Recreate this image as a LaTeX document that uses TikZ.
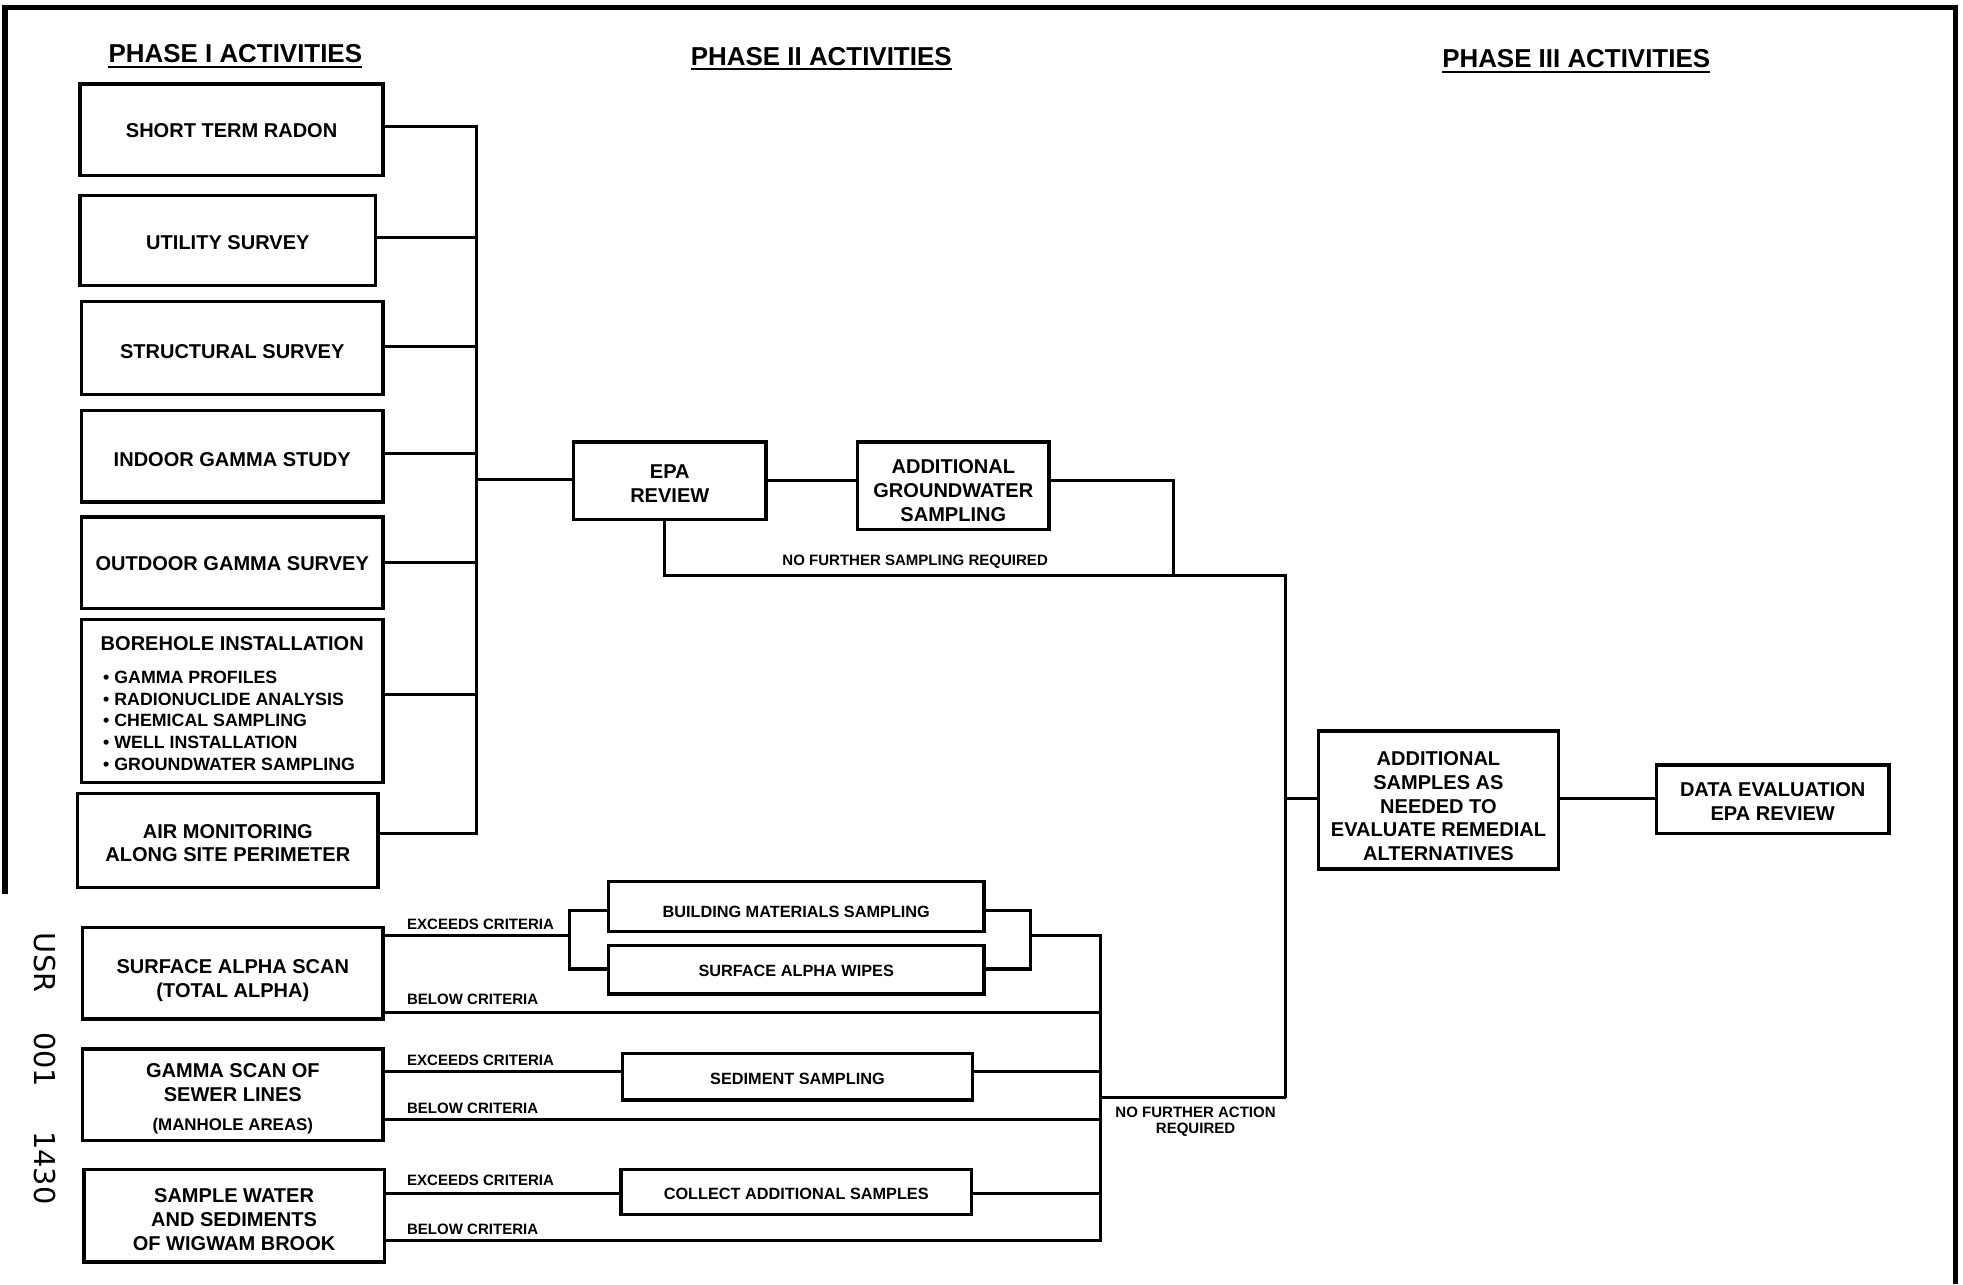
\documentclass[tikz,border=0pt]{standalone}
\usepackage{fontspec}
\setmainfont{Liberation Sans}
\newfontfamily\stampfont{DejaVu Sans}
\newcommand\mkbox[7]{%
  \node[#2, wh={#4}{#5}] (#1) at (#3) {};
  \node[#2text] (#1-t) at ([yshift=#6pt]#1.center) {#7};}
\begin{document}
\begin{tikzpicture}[x=1pt,y=-1pt,
  box/.style={draw, line width=2.7pt, inner sep=0pt},
  sbox/.style={box},
  boxtext/.style={inner sep=0pt, align=center, font=\bfseries\fontsize{16}{19}\selectfont},
  sboxtext/.style={inner sep=0pt, align=center, font=\bfseries\fontsize{13}{16}\selectfont},
  wh/.style 2 args={minimum width=#1pt, minimum height=#2pt},
  conn/.style={line width=2.4pt},
  lbl/.style={inner sep=0pt, font=\bfseries\fontsize{12}{13}\selectfont},
  head/.style={inner sep=0pt, font=\bfseries\fontsize{20.7}{24}\selectfont},
  frame/.style={line width=4.5pt},
  uline/.style={line width=1.6pt}
]
\useasboundingbox (0,0) rectangle (1568,1026);
% frame
\draw[frame] (4,714) -- (4,6) -- (1562,6) -- (1562,1026);

% headings
\node[head] (h1) at (188,43) {PHASE I ACTIVITIES};
\node[head] (h2) at (656,45) {PHASE II ACTIVITIES};
\node[head] (h3) at (1259,47) {PHASE III ACTIVITIES};
\foreach \h in {h1,h2,h3}
  \draw[uline] ([yshift=-3pt]\h.base west) -- ([yshift=-3pt]\h.base east);

% Phase I boxes
\mkbox{str}{box}{185,103.5}{242}{73}{-1}{SHORT TERM RADON}
\mkbox{util}{box}{182,192}{236}{72}{-2}{UTILITY SURVEY}
\mkbox{struct}{box}{185.5,278}{241}{74}{-3}{STRUCTURAL SURVEY}
\mkbox{indoor}{box}{185.5,364.5}{241}{73}{-3}{INDOOR GAMMA STUDY}
\mkbox{outdoor}{box}{185.5,449.5}{241}{73}{-1}{OUTDOOR GAMMA SURVEY}
\mkbox{bore}{box}{185.5,560}{241}{130}{-4}{\renewcommand\arraystretch{0.91}%
  \begin{tabular}{@{}l@{}}BOREHOLE INSTALLATION\\[9pt]
  {\fontsize{14.2}{17}\selectfont\hspace{2pt}\textbullet\ GAMMA PROFILES}\\
  {\fontsize{14.2}{17}\selectfont\hspace{2pt}\textbullet\ RADIONUCLIDE ANALYSIS}\\
  {\fontsize{14.2}{17}\selectfont\hspace{2pt}\textbullet\ CHEMICAL SAMPLING}\\
  {\fontsize{14.2}{17}\selectfont\hspace{2pt}\textbullet\ WELL INSTALLATION}\\
  {\fontsize{14.2}{17}\selectfont\hspace{2pt}\textbullet\ GROUNDWATER SAMPLING}
  \end{tabular}}
\mkbox{air}{box}{182,671.5}{240}{75}{-2}{AIR MONITORING\\ALONG SITE PERIMETER}

% Phase I bus
\coordinate (bus) at (381,383);
\draw[conn] (str.east |- 0,101) -- (381,101) -- (381,666) -- (air.east |- 0,666);
\foreach \n/\yy in {util/190,struct/277,indoor/362,outdoor/449,bore/555}
  \draw[conn] (\n.east |- 0,\yy) -- (381,\yy);

% Phase II
\mkbox{epa}{box}{535,384}{154}{62}{-2}{EPA\\REVIEW}
\mkbox{ags}{box}{761.5,388}{153}{70}{-4}{ADDITIONAL\\GROUNDWATER\\SAMPLING}
\draw[conn] (bus) -- (epa.west |- bus);
\draw[conn] (epa.east |- 0,384) -- (ags.west |- 0,384);
\coordinate (j1) at (937,460);
\coordinate (j2) at (1027,460);
\coordinate (j3) at (1027,877);
\coordinate (j4) at (1027,638);
\draw[conn] (ags.east |- 0,384) -- (937,384) -- (j1);
\draw[conn] (531,0 |- epa.south) -- (531,460) -- (j2) -- (j3);
\node[lbl] (nfs) at (731,449) {NO FURTHER SAMPLING REQUIRED};

% Phase III
\mkbox{addl}{box}{1149,639}{192}{110}{-5}{ADDITIONAL\\SAMPLES AS\\NEEDED TO\\EVALUATE REMEDIAL\\ALTERNATIVES}
\mkbox{data}{box}{1416,638.5}{186}{55}{-2}{DATA EVALUATION\\EPA REVIEW}
\draw[conn] (j4) -- (addl.west |- j4);
\draw[conn] (addl.east |- j4) -- (data.west |- j4);

% lower section
\mkbox{sas}{box}{186,777.5}{240}{73}{-6}{SURFACE ALPHA SCAN\\(TOTAL ALPHA)}
\mkbox{gss}{box}{186,874.5}{240}{73}{-3}{GAMMA SCAN OF\\SEWER LINES\\[4pt]{\fontsize{13.5}{15}\selectfont (MANHOLE AREAS)}}
\mkbox{swb}{box}{187,971}{240}{74}{-3}{SAMPLE WATER\\AND SEDIMENTS\\OF WIGWAM BROOK}
\mkbox{bms}{sbox}{636,724}{300}{40}{-4}{BUILDING MATERIALS SAMPLING}
\mkbox{saw}{sbox}{636,774.5}{300}{39}{-1}{SURFACE ALPHA WIPES}
\mkbox{sed}{sbox}{637,860}{280}{37}{-2}{SEDIMENT SAMPLING}
\mkbox{cas}{sbox}{636,952}{280}{36}{-2}{COLLECT ADDITIONAL SAMPLES}

\coordinate (lb) at (879,747);
\draw[conn] (sas.east |- 0,747) -- (455,747);
\draw[conn] (bms.west |- 0,727) -- (455,727) -- (455,774) -- (saw.west |- 0,774);
\draw[conn] (bms.east |- 0,727) -- (823,727) -- (823,774) -- (saw.east |- 0,774);
\draw[conn] (823,747) -- (lb) -- (879,991) -- (swb.east |- 0,991);
\draw[conn] (sas.east |- 0,809) -- (879,809);
\draw[conn] (gss.east |- 0,856) -- (sed.west |- 0,856);
\draw[conn] (sed.east |- 0,856) -- (879,856);
\draw[conn] (gss.east |- 0,894) -- (879,894);
\draw[conn] (swb.east |- 0,953) -- (cas.west |- 0,953);
\draw[conn] (cas.east |- 0,953) -- (879,953);
\draw[conn] (879,877) -- (j3);

\node[lbl, anchor=west] (e1) at (325,738) {EXCEEDS CRITERIA};
\node[lbl, anchor=west] (b1) at (325,798) {BELOW CRITERIA};
\node[lbl, anchor=west] (e2) at (325,847) {EXCEEDS CRITERIA};
\node[lbl, anchor=west] (b2) at (325,885) {BELOW CRITERIA};
\node[lbl, anchor=west] (e3) at (325,943) {EXCEEDS CRITERIA};
\node[lbl, anchor=west] (b3) at (325,982) {BELOW CRITERIA};
\node[lbl, align=center] (nfa) at (955,896) {NO FURTHER ACTION\\REQUIRED};

% stamp
\node[rotate=-90, anchor=west, inner sep=0pt, font=\stampfont\fontsize{23}{26}\selectfont] (usr) at (36,745) {USR\hspace{32pt}001\hspace{35pt}1430};
\end{tikzpicture}
\end{document}
